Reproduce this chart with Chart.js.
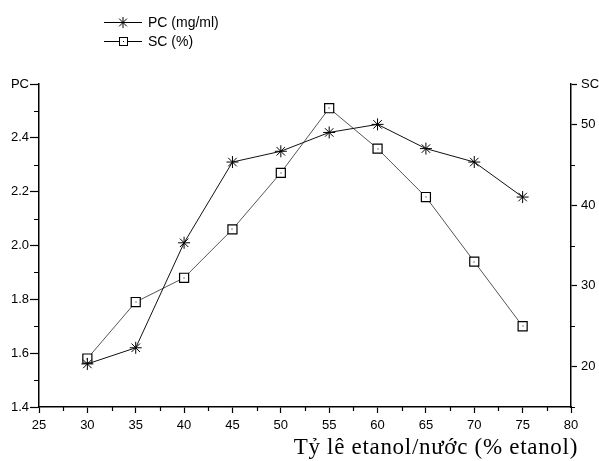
<!DOCTYPE html>
<html>
<head>
<meta charset="utf-8">
<script src="https://cdn.jsdelivr.net/npm/chart.js@4"></script>
<style>
  html, body { margin: 0; padding: 0; background: #fff; }
  #wrap { width: 599px; height: 461px; }
</style>
</head>
<body>
<div id="wrap"><canvas id="chart" width="599" height="461"></canvas></div>
<script>
// etanol ratio (% etanol)
const ratios = [30, 35, 40, 45, 50, 55, 60, 65, 70, 75];
// PC (mg/ml), left axis
const pcValues = [1.56, 1.62, 2.01, 2.31, 2.35, 2.42, 2.45, 2.36, 2.31, 2.18];
// SC (%), right axis
const scValues = [21, 28, 31, 37, 44, 52, 47, 41, 33, 25];

const seriesNames = ['PC (mg/ml)', 'SC (%)'];
const xTitle = 'Tỷ lê etanol/nước (% etanol)';

const tickFont = { family: 'Liberation Sans, Arial, sans-serif', size: 13 };

// minor ticks are hidden in the scale and drawn shorter here
function isMinorX(v) { return v % 5 !== 0; }
function isMinorPC(v) { return Math.round(v * 10) % 2 !== 0 && Math.round(v * 10) !== 26; }
function isMinorSC(v) { return v % 10 !== 0 && v !== 55; }

const extras = {
    id: 'extras',
    afterDatasetsDraw(chart) {
        const ctx = chart.ctx;
        ctx.save();
        ctx.fillStyle = '#000';
        chart.getDatasetMeta(1).data.forEach(pt => {
            ctx.fillRect(Math.round(pt.x) - 0.5, Math.round(pt.y) - 0.5, 1, 1);
        });
        ctx.restore();
    },
    afterDraw(chart) {
        const ctx = chart.ctx;
        const area = chart.chartArea;
        ctx.save();
        ctx.strokeStyle = '#000';
        ctx.lineWidth = 1.2;
        // minor ticks
        const sx = chart.scales.x, sp = chart.scales.yPC, ss = chart.scales.ySC;
        ctx.beginPath();
        sx.ticks.forEach(t => {
            if (!isMinorX(t.value)) return;
            const px = Math.round(sx.getPixelForValue(t.value)) + 0.5;
            ctx.moveTo(px, area.bottom);
            ctx.lineTo(px, area.bottom + 4);
        });
        sp.ticks.forEach(t => {
            if (!isMinorPC(t.value)) return;
            const py = Math.round(sp.getPixelForValue(t.value)) + 0.5;
            ctx.moveTo(area.left, py);
            ctx.lineTo(area.left - 5, py);
        });
        ss.ticks.forEach(t => {
            if (!isMinorSC(t.value)) return;
            const py = Math.round(ss.getPixelForValue(t.value)) + 0.5;
            ctx.moveTo(area.right, py);
            ctx.lineTo(area.right + 4, py);
        });
        ctx.stroke();

        // legend
        const rows = [
            { y: 22, name: seriesNames[0], style: 'star' },
            { y: 41, name: seriesNames[1], style: 'rect' }
        ];
        rows.forEach(r => {
            ctx.strokeStyle = '#000';
            ctx.lineWidth = 1;
            ctx.beginPath();
            ctx.moveTo(104, r.y + 0.5);
            ctx.lineTo(142, r.y + 0.5);
            ctx.stroke();
            if (r.style === 'star') {
                Chart.helpers.drawPoint(ctx, { pointStyle: 'star', radius: 5.5, borderWidth: 1 }, 123, r.y + 0.5);
            } else {
                ctx.fillStyle = '#fff';
                ctx.fillRect(119, r.y - 4, 8, 8);
                ctx.strokeRect(119.5, r.y - 3.5, 8, 8);
                ctx.fillStyle = '#000';
                ctx.fillRect(123, r.y, 1, 1);
            }
            ctx.fillStyle = '#000';
            ctx.font = '14px Liberation Sans, Arial, sans-serif';
            ctx.textBaseline = 'middle';
            ctx.textAlign = 'left';
            ctx.fillText(r.name, 148, r.y + 1);
        });
        // x axis title
        ctx.font = '23px Liberation Serif, Times New Roman, serif';
        ctx.letterSpacing = '0.7px';
        ctx.textAlign = 'right';
        ctx.textBaseline = 'alphabetic';
        ctx.fillText(xTitle, 578, 454);
        ctx.restore();
    }
};

new Chart(document.getElementById('chart'), {
    type: 'line',
    data: {
        datasets: [
            {
                label: seriesNames[0],
                data: ratios.map((x, i) => ({ x: x, y: pcValues[i] })),
                yAxisID: 'yPC',
                borderColor: '#111',
                borderWidth: 1,
                pointStyle: 'star',
                pointRadius: 6,
                pointBorderColor: '#000',
                pointBorderWidth: 1,
                fill: false,
                tension: 0
            },
            {
                label: seriesNames[1],
                data: ratios.map((x, i) => ({ x: x, y: scValues[i] })),
                yAxisID: 'ySC',
                borderColor: '#555',
                borderWidth: 1,
                pointStyle: 'rect',
                pointRadius: 6.4,
                pointBackgroundColor: '#fff',
                pointBorderColor: '#000',
                pointBorderWidth: 1.2,
                fill: false,
                tension: 0
            }
        ]
    },
    options: {
        responsive: false,
        animation: false,
        layout: { padding: { top: 84, left: 0, right: 0, bottom: 0 } },
        plugins: { legend: { display: false }, tooltip: { enabled: false } },
        scales: {
            x: {
                type: 'linear',
                min: 25,
                max: 80,
                afterBuildTicks(scale) {
                    const t = [];
                    for (let v = 25; v <= 80; v += 2.5) t.push({ value: v });
                    scale.ticks = t;
                },
                afterFit(scale) { scale.height = 54; },
                ticks: {
                    autoSkip: false,
                    maxRotation: 0,
                    color: '#000',
                    font: tickFont,
                    padding: 5,
                    callback: v => (isMinorX(v) ? '' : String(v))
                },
                grid: {
                    drawOnChartArea: false, drawTicks: true, tickLength: 6, tickWidth: 1.2,
                    color: c => (c.tick && isMinorX(c.tick.value) ? 'rgba(0,0,0,0)' : '#000')
                },
                border: { display: true, color: '#000', width: 1.5 }
            },
            yPC: {
                type: 'linear',
                position: 'left',
                min: 1.4,
                max: 2.6,
                afterBuildTicks(scale) {
                    const t = [];
                    for (let i = 14; i <= 26; i++) t.push({ value: i / 10 });
                    scale.ticks = t;
                },
                afterFit(scale) { scale.width = 39; },
                ticks: {
                    autoSkip: false,
                    color: '#000',
                    font: tickFont,
                    padding: 1,
                    callback: v => {
                        const k = Math.round(v * 10);
                        if (k === 26) return 'PC';
                        return k % 2 === 0 ? (k / 10).toFixed(1) : '';
                    }
                },
                grid: {
                    drawOnChartArea: false, drawTicks: true, tickLength: 9, tickWidth: 1.2,
                    color: c => (c.tick && isMinorPC(c.tick.value) ? 'rgba(0,0,0,0)' : '#000')
                },
                border: { display: true, color: '#000', width: 1.5 }
            },
            ySC: {
                type: 'linear',
                position: 'right',
                min: 15,
                max: 55,
                afterBuildTicks(scale) {
                    const t = [];
                    for (let v = 15; v <= 55; v += 5) t.push({ value: v });
                    scale.ticks = t;
                },
                afterFit(scale) { scale.width = 28; },
                ticks: {
                    autoSkip: false,
                    color: '#000',
                    font: tickFont,
                    padding: 4,
                    callback: v => {
                        if (v === 55) return 'SC';
                        return v % 10 === 0 ? String(v) : '';
                    }
                },
                grid: {
                    drawOnChartArea: false, drawTicks: true, tickLength: 6, tickWidth: 1.2,
                    color: c => (c.tick && isMinorSC(c.tick.value) ? 'rgba(0,0,0,0)' : '#000')
                },
                border: { display: true, color: '#000', width: 1.5 }
            }
        }
    },
    plugins: [extras]
});
</script>
</body>
</html>
